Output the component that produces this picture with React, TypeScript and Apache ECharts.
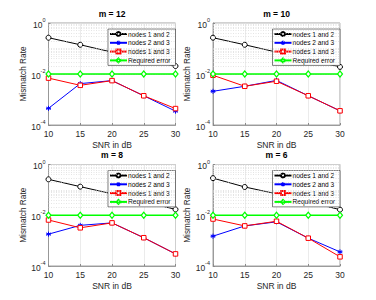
import React, { useEffect, useRef } from "react";
import * as echarts from "echarts";

const snr = [10, 15, 20, 25, 30];
const panelTitles = ["m = 12", "m = 10", "m = 8", "m = 6"];
const seriesNames = ["nodes 1 and 2", "nodes 2 and 3", "nodes 1 and 3", "Required error"];

const m12_n12 = [0.265, 0.14, 0.072, 0.038, 0.0205];
const m12_n23 = [4.5e-4, 4.2e-3, 5.5e-3, 1.4e-3, 3.5e-4];
const m12_n13 = [6.9e-3, 3.6e-3, 5.5e-3, 1.4e-3, 4.4e-4];
const m10_n12 = [0.265, 0.14, 0.072, 0.037, 0.019];
const m10_n23 = [2.1e-3, 3.3e-3, 5.6e-3, 1.4e-3, 3.6e-4];
const m10_n13 = [8.9e-3, 3.3e-3, 5.2e-3, 1.4e-3, 3.6e-4];
const m8_n12 = [0.26, 0.134, 0.07, 0.035, 0.017];
const m8_n23 = [1.8e-3, 4.0e-3, 5.0e-3, 1.3e-3, 3.0e-4];
const m8_n13 = [6.5e-3, 3.2e-3, 5.0e-3, 1.3e-3, 3.0e-4];
const m6_n12 = [0.29, 0.13, 0.07, 0.034, 0.0166];
const m6_n23 = [1.5e-3, 3.8e-3, 5.5e-3, 1.25e-3, 3.6e-4];
const m6_n13 = [7.1e-3, 3.8e-3, 5.8e-3, 1.25e-3, 2.3e-4];
const requiredError = [0.01, 0.01, 0.01, 0.01, 0.01];

const panels = [
  [m12_n12, m12_n23, m12_n13, requiredError],
  [m10_n12, m10_n23, m10_n13, requiredError],
  [m8_n12, m8_n23, m8_n13, requiredError],
  [m6_n12, m6_n23, m6_n13, requiredError],
];

const minorGridValues = [1e-4, 1e-3, 1e-2, 1e-1].flatMap((d, j) =>
  [2, 3, 4, 5, 6, 7, 8, 9, 10].filter((k) => !(k === 10 && (j === 1 || j === 3))).map((k) => k * d)
).filter((v) => Math.abs(Math.log10(v) - Math.round(Math.log10(v))) > 1e-9 || [1e-3, 1e-1].some((x) => Math.abs(x - v) < 1e-12));

const FONT = "Liberation Sans, Arial, Helvetica, sans-serif";
const TXT = "#262626";
const FRAME = "#8a8a8a";

export default function App() {
  const ref = useRef<HTMLDivElement>(null);
  useEffect(() => {
    document.body.style.margin = "0";
    const chart = echarts.init(ref.current!, null, { renderer: "svg" });
    const gridsPos = [
      { left: 48.5, top: 23, width: 127, height: 102 },
      { left: 213, top: 23, width: 127, height: 102 },
      { left: 48.5, top: 164.5, width: 127, height: 101.5 },
      { left: 213, top: 164.5, width: 127, height: 101.5 },
    ];
    const colors = ["#000000", "#0000ff", "#ff0000", "#00ff00"];
    const symbols = [
      "circle",
      "path://M0,-10L0,10M-8.66,-5L8.66,5M-8.66,5L8.66,-5M-10,0L10,0",
      "rect",
      "diamond",
    ];
    const symSizes = [5, 5, 4.5, [5, 6]];
    const series: any[] = [];
    panels.forEach((p, gi) => {
      series.push({
        type: "line",
        name: "",
        xAxisIndex: gi,
        yAxisIndex: gi,
        data: [],
        z: 1,
        silent: true,
        markLine: {
          silent: true,
          symbol: ["none", "none"],
          label: { show: false },
          lineStyle: { type: [1, 1.5], color: "#d4d4d4", width: 0.6 },
          data: minorGridValues.map((v) => ({ yAxis: v })),
        },
      });
      p.forEach((vals, si) => {
        series.push({
          type: "line",
          name: seriesNames[si],
          xAxisIndex: gi,
          yAxisIndex: gi,
          data: snr.map((x, k) => [x, vals[k]]),
          z: 3 + si,
          symbol: symbols[si],
          symbolSize: symSizes[si],
          showAllSymbol: true,
          lineStyle: { color: colors[si], width: si === 3 ? 1.5 : 1 },
          itemStyle: {
            color: si === 1 ? colors[si] : "#ffffff",
            borderColor: colors[si],
            borderWidth: si === 3 ? 1.2 : 1,
          },
        });
      });
    });
    const option: any = {
      animation: false,
      textStyle: { fontFamily: FONT },
      title: panelTitles.map((t, i) => ({
        text: t,
        left: gridsPos[i].left + gridsPos[i].width / 2,
        top: gridsPos[i].top - 14,
        textAlign: "center",
        padding: 0,
        textStyle: { fontSize: 8.5, fontWeight: "bold", color: "#000", fontFamily: FONT },
      })),
      legend: gridsPos.map((g) => ({
        data: seriesNames,
        orient: "vertical",
        right: 376 - (g.left + g.width),
        top: g.top + 6,
        itemWidth: 17,
        itemHeight: 5,
        itemGap: 1.8,
        padding: [1.5, 5, 1.5, 1],
        backgroundColor: "#ffffff",
        borderColor: "#262626",
        borderWidth: 0.6,
        selectedMode: false,
        textStyle: { fontSize: 6.6, color: "#000", fontFamily: FONT, padding: [0, 0, 0, -4] },
      })),
      grid: gridsPos.map((g) => ({
        ...g,
        show: true,
        borderColor: FRAME,
        borderWidth: 0.8,
        backgroundColor: "transparent",
      })),
      xAxis: gridsPos.map((g, i) => ({
        type: "value",
        gridIndex: i,
        min: 10,
        max: 30,
        interval: 5,
        name: "SNR in dB",
        nameLocation: "middle",
        nameGap: 15,
        nameTextStyle: { fontSize: 8.5, color: TXT, fontFamily: FONT },
        axisLine: { show: true, lineStyle: { color: FRAME, width: 0.8 } },
        axisTick: { show: true, inside: true, length: 2, lineStyle: { color: FRAME } },
        axisLabel: { fontSize: 8.5, color: TXT, margin: 4, fontFamily: FONT },
        splitLine: { show: true, lineStyle: { color: "#e3e3e3", width: 0.7 } },
      })),
      yAxis: gridsPos.map((g, i) => ({
        type: "log",
        logBase: 10,
        gridIndex: i,
        min: 1e-4,
        max: 1,
        interval: 2,
        name: "Mismatch Rate",
        nameLocation: "middle",
        nameGap: 19,
        nameTextStyle: { fontSize: 8.25, color: TXT, fontFamily: FONT },
        axisLine: { show: true, lineStyle: { color: FRAME, width: 0.8 } },
        axisTick: { show: true, inside: true, length: 2, lineStyle: { color: FRAME } },
        axisLabel: {
          margin: 3,
          color: TXT,
          fontFamily: FONT,
          formatter: (v: number) => {
            const e = Math.round(Math.log10(v));
            return "{b|10}{s|" + e + "}";
          },
          rich: {
            b: { fontSize: 8.5, color: TXT, fontFamily: FONT, lineHeight: 12, verticalAlign: "bottom" },
            s: { fontSize: 5.5, color: TXT, fontFamily: FONT, verticalAlign: "top", lineHeight: 12 },
          },
        },
        splitLine: { show: true, lineStyle: { color: "#e3e3e3", width: 0.7 } },
      })),
      series,
    };
    chart.setOption(option);
    return () => chart.dispose();
  }, []);
  return (
    <div
      ref={ref}
      style={{ position: "absolute", left: 0, top: 0, width: 376, height: 300, background: "#fff" }}
    />
  );
}
